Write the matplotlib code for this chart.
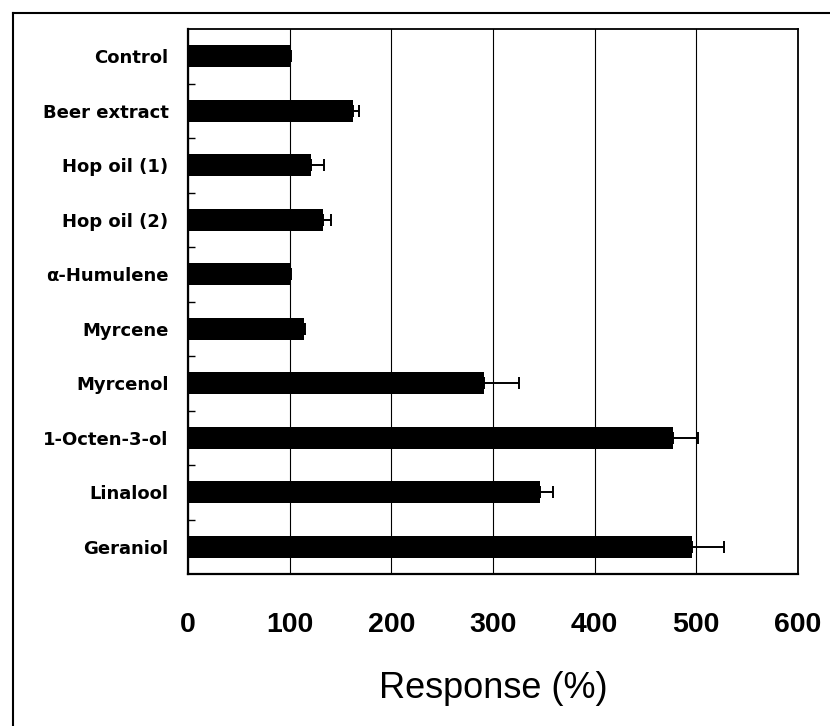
import matplotlib
matplotlib.use("Agg")
import matplotlib.pyplot as plt
from matplotlib.lines import Line2D
import numpy as np

categories = ["Control", "Beer extract", "Hop oil (1)", "Hop oil (2)", "α-Humulene",
              "Myrcene", "Myrcenol", "1-Octen-3-ol", "Linalool", "Geraniol"]
response = [100, 162, 121, 133, 100, 114, 291, 477, 346, 496]
upper_error = [1, 6, 13, 8, 1, 1.5, 35, 25, 13, 31]
x_ticks = [0, 100, 200, 300, 400, 500, 600]

plt.rcParams['font.family'] = ['Liberation Sans', 'DejaVu Sans']

fig = plt.figure(figsize=(8.30, 7.26), dpi=100)
W, H = 830, 726
ax = fig.add_axes([188 / W, 1 - 574 / H, (798 - 188) / W, (574 - 29) / H])

y = np.arange(len(categories))
err = np.vstack([np.zeros(len(upper_error)), upper_error])
ax.barh(y, response, height=0.41, color="black", zorder=3)
ax.errorbar(response, y, xerr=err, fmt="none", ecolor="black", elinewidth=1.4,
            capsize=4.3, capthick=1.4, zorder=4)

ax.set_xlim(0, 600)
ax.set_ylim(len(categories) - 0.5, -0.5)
ax.set_xticks(x_ticks)
ax.set_xticklabels([str(v) for v in x_ticks], fontsize=20.5, fontweight="bold")
ax.tick_params(axis="x", length=0, pad=27)
ax.set_yticks(y)
ax.set_yticklabels(categories, fontsize=13, fontweight="bold",
                   family=['DejaVu Sans'])
ax.tick_params(axis="y", which="major", length=0, pad=14)
ax.set_yticks(np.arange(0.5, len(categories) - 0.5, 1), minor=True)
ax.tick_params(axis="y", which="minor", direction="in", length=5, width=1, color="black")

ax.xaxis.grid(True, color="black", linewidth=0.8, zorder=1)
ax.set_axisbelow(True)
for s in ["left", "bottom"]:
    ax.spines[s].set_linewidth(1.6)
for s in ["top", "right"]:
    ax.spines[s].set_linewidth(1.3)
for s in ax.spines.values():
    s.set_color("black")

fig.text(493 / W, 1 - 688 / H, "Response (%)", fontsize=26, ha="center", va="center")

# outer frame (top and left edges visible)
x0 = 12.5 / W
y0 = 1 - 12.5 / H
fig.add_artist(Line2D([x0, x0], [0, y0], transform=fig.transFigure, color="black", linewidth=1.5))
fig.add_artist(Line2D([x0, 1], [y0, y0], transform=fig.transFigure, color="black", linewidth=1.5))

fig.savefig("out.png", dpi=100)
